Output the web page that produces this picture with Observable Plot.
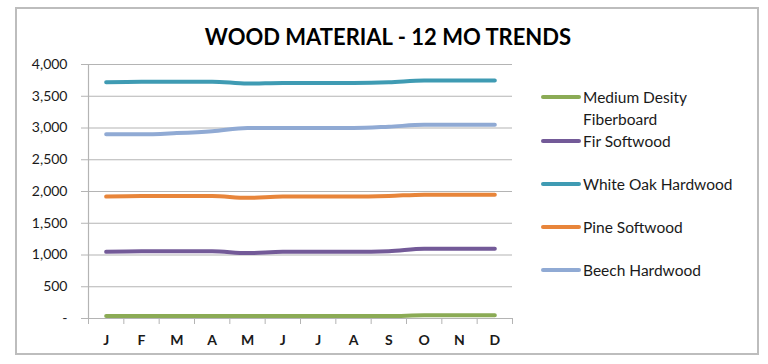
<!DOCTYPE html>
<html>
<head>
<meta charset="utf-8">
<script src="https://cdn.jsdelivr.net/npm/d3@7"></script>
<script src="https://cdn.jsdelivr.net/npm/@observablehq/plot@0.6"></script>
<style>
  html, body { margin: 0; padding: 0; background: #fff; }
  #wrap { position: relative; width: 768px; height: 364px; overflow: hidden; font-family: Lato, "Open Sans", sans-serif; }
  #frame { position: absolute; left: 15px; top: 7px; width: 740px; height: 344px; border: 2px solid #bdbdbd; pointer-events: none; }
  #title { position: absolute; left: 0; width: 776px; top: 23px; text-align: center; font-weight: 700; font-size: 22px; color: #000; }
  #chart { position: absolute; left: 0; top: 0; }
  .leg { position: absolute; left: 541px; font-size: 15.5px; color: #1a1a1a; line-height: 22px; }
  .leg .sw { position: absolute; left: 0; width: 40px; height: 4px; border-radius: 2px; }
  .leg .tx { position: absolute; left: 42px; white-space: nowrap; }
</style>
</head>
<body>
<div id="wrap">
  <div id="chart"></div>
  <div id="title">WOOD MATERIAL - 12 MO TRENDS</div>
  <div id="legend"></div>
  <div id="frame"></div>
</div>
<script>
const months = ["J","F","M","A","M","J","J","A","S","O","N","D"];
const seriesNames = ["Medium Desity Fiberboard","Fir Softwood","White Oak Hardwood","Pine Softwood","Beech Hardwood"];
const seriesColors = ["#8bab55","#735a98","#3f9bb3","#e8853a","#90aad4"];
const mdf      = [40,40,40,40,40,40,40,40,40,50,50,50];
const fir      = [1050,1060,1060,1060,1030,1050,1050,1050,1060,1100,1100,1100];
const whiteOak = [3720,3730,3730,3730,3700,3710,3710,3710,3720,3750,3750,3750];
const pine     = [1920,1930,1930,1930,1900,1920,1920,1920,1930,1950,1950,1950];
const beech    = [2900,2900,2920,2950,3000,3000,3000,3000,3020,3050,3050,3050];
const yTicks = [0,500,1000,1500,2000,2500,3000,3500,4000];

const allSeries = [mdf, fir, whiteOak, pine, beech];
const rows = [];
allSeries.forEach((vals, s) => vals.forEach((v, i) => rows.push({series: seriesNames[s], i, value: v})));

const idx = months.map((m, i) => i);
const bounds = d3.range(-0.5, 12, 1);

const plot = Plot.plot({
  width: 768,
  height: 364,
  marginLeft: 88,
  marginRight: 256,
  marginTop: 64,
  marginBottom: 46,
  style: {fontFamily: "Lato, 'Open Sans', sans-serif", fontSize: "14px", color: "#1a1a1a", background: "transparent"},
  x: {domain: [-0.5, 11.5]},
  y: {domain: [0, 4000]},
  color: {domain: seriesNames, range: seriesColors},
  marks: [
    Plot.gridY(yTicks, {stroke: "#b4b4b4", strokeOpacity: 1, strokeWidth: 1.2}),
    Plot.axisY(yTicks, {tickSize: 7, tickPadding: 14, stroke: "#b4b4b4", strokeOpacity: 1, label: null,
      tickFormat: d => d === 0 ? "-" : d3.format(",")(d), fontSize: 14, fill: "#1a1a1a"}),
    Plot.ruleX([-0.5], {stroke: "#b4b4b4", strokeWidth: 1.2}),
    Plot.ruleY([0], {stroke: "#b4b4b4", strokeWidth: 1.2}),
    Plot.axisX(bounds, {tickSize: 6, stroke: "#b4b4b4", strokeOpacity: 1, tickFormat: () => "", label: null}),
    Plot.axisX(idx, {tickSize: 0, tickPadding: 17, tickFormat: i => months[i], label: null, fontSize: 14, fontWeight: "bold", fill: "#1a1a1a"}),
    Plot.line(rows, {x: "i", y: "value", z: "series", stroke: "series", strokeWidth: 4, curve: "monotone-x", strokeLinecap: "round"})
  ]
});
document.getElementById("chart").appendChild(plot);

// legend
const legendY = [97, 141, 184, 227, 270];
const leg = document.getElementById("legend");
seriesNames.forEach((name, s) => {
  const d = document.createElement("div");
  d.className = "leg";
  d.style.top = legendY[s] + "px";
  const sw = document.createElement("div");
  sw.className = "sw";
  sw.style.background = seriesColors[s];
  sw.style.top = "-2px";
  const tx = document.createElement("div");
  tx.className = "tx";
  tx.style.top = "-11px";
  if (s === 0) {
    tx.innerHTML = "Medium Desity<br>Fiberboard";
  } else {
    tx.textContent = name;
  }
  d.appendChild(sw); d.appendChild(tx);
  leg.appendChild(d);
});
</script>
</body>
</html>
